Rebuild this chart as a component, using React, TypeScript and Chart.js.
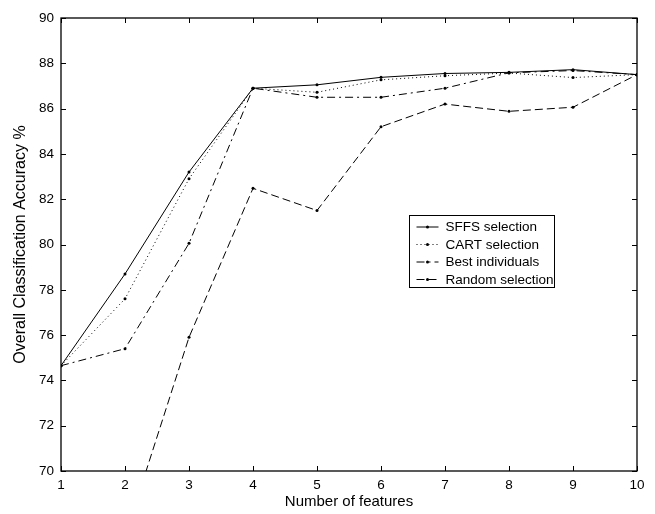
import React, { useEffect, useRef } from "react";
import { Chart, registerables } from "chart.js";

Chart.register(...registerables);

const features = [1, 2, 3, 4, 5, 6, 7, 8, 9, 10];
const sffs = [74.65, 78.7, 83.2, 86.9, 87.05, 87.38, 87.55, 87.6, 87.72, 87.5];
const cart = [74.65, 77.6, 82.9, 86.9, 86.72, 87.27, 87.45, 87.57, 87.37, 87.5];
const bestIndividuals = [74.65, 75.4, 80.05, 86.9, 86.5, 86.5, 86.9, 87.58, 87.68, 87.5];
const randomSelection = [60, 67.1, 75.9, 82.48, 81.5, 85.2, 86.2, 85.88, 86.06, 87.5];
const seriesLabels = ["SFFS selection", "CART selection", "Best individuals", "Random selection"];
const dashes: number[][] = [[], [1, 3], [8, 4, 2, 4], [8, 4]];

const FONT = '"Liberation Sans", Arial, Helvetica, sans-serif';

const boxPlugin = {
  id: "matlabBox",
  afterDatasetsDraw(chart: any) {
    const { ctx, chartArea: a, scales } = chart;
    ctx.save();
    ctx.strokeStyle = "#000";
    ctx.lineWidth = 1.3;
    ctx.setLineDash([]);
    ctx.strokeRect(a.left, a.top, a.right - a.left, a.bottom - a.top);
    const tl = 5;
    ctx.lineWidth = 1;
    ctx.beginPath();
    scales.y.ticks.forEach((t: any) => {
      const p = Math.round(scales.y.getPixelForValue(t.value)) + 0.5;
      ctx.moveTo(a.left, p);
      ctx.lineTo(a.left + tl, p);
      ctx.moveTo(a.right, p);
      ctx.lineTo(a.right - tl, p);
    });
    scales.x.ticks.forEach((t: any) => {
      const p = Math.round(scales.x.getPixelForValue(t.value)) + 0.5;
      ctx.moveTo(p, a.bottom);
      ctx.lineTo(p, a.bottom - tl);
      ctx.moveTo(p, a.top);
      ctx.lineTo(p, a.top + tl);
    });
    ctx.stroke();

    // legend
    const lx = a.left + 348.5;
    const ly = a.top + 197.5;
    const lw = 145;
    const lh = 72;
    ctx.fillStyle = "#fff";
    ctx.fillRect(lx, ly, lw, lh);
    ctx.lineWidth = 1;
    ctx.strokeRect(lx, ly, lw, lh);
    ctx.font = "13.5px " + FONT;
    ctx.textBaseline = "middle";
    chart.data.datasets.forEach((ds: any, i: number) => {
      const y = ly + 11.5 + i * 17.5;
      ctx.strokeStyle = "#000";
      ctx.lineWidth = 1;
      ctx.setLineDash(ds.borderDash || []);
      ctx.beginPath();
      ctx.moveTo(lx + 7, y);
      ctx.lineTo(lx + 29, y);
      ctx.stroke();
      ctx.setLineDash([]);
      ctx.fillStyle = "#000";
      ctx.beginPath();
      ctx.arc(lx + 18, y, 1.5, 0, Math.PI * 2);
      ctx.fill();
      ctx.fillText(ds.label, lx + 36, y + 0.5);
    });
    ctx.restore();
  },
};

export default function App() {
  const ref = useRef<HTMLCanvasElement | null>(null);
  useEffect(() => {
    document.body.style.margin = "0";
    const series = [sffs, cart, bestIndividuals, randomSelection];
    const chart = new Chart(ref.current as HTMLCanvasElement, {
      type: "line",
      data: {
        datasets: series.map((s, i) => ({
          label: seriesLabels[i],
          data: features.map((f, j) => ({ x: f, y: s[j] })),
          borderColor: "#000",
          backgroundColor: "#000",
          borderWidth: 1,
          borderDash: dashes[i],
          pointRadius: 1.5,
          pointBorderWidth: 0,
          pointBackgroundColor: "#000",
          tension: 0,
          fill: false,
        })),
      },
      options: {
        animation: false,
        responsive: false,
        events: [],
        layout: { padding: { left: 0, right: 18, top: 18, bottom: 0 } },
        plugins: { legend: { display: false }, tooltip: { enabled: false } },
        scales: {
          x: {
            type: "linear",
            min: 1,
            max: 10,
            grid: { display: false, drawTicks: false },
            border: { display: false },
            ticks: { stepSize: 1, color: "#000", font: { family: FONT, size: 13.5 }, padding: 6 },
            title: { display: true, text: "Number of features", color: "#000", font: { family: FONT, size: 15 }, padding: { top: 4, bottom: 3 } },
            afterFit: (s: any) => { s.height = 43; },
          },
          y: {
            min: 70,
            max: 90,
            grid: { display: false, drawTicks: false },
            border: { display: false },
            ticks: { stepSize: 2, color: "#000", font: { family: FONT, size: 13.5 }, padding: 7 },
            title: { display: true, text: "Overall Classification Accuracy %", color: "#000", font: { family: FONT, size: 16 }, padding: { top: 11, bottom: 4 } },
            afterFit: (s: any) => { s.width = 61; },
          },
        },
      },
      plugins: [boxPlugin],
    });
    return () => chart.destroy();
  }, []);
  return (
    <div style={{ width: 655, height: 514, background: "#fff" }}>
      <canvas ref={ref} width={655} height={514} style={{ display: "block" }} />
    </div>
  );
}
